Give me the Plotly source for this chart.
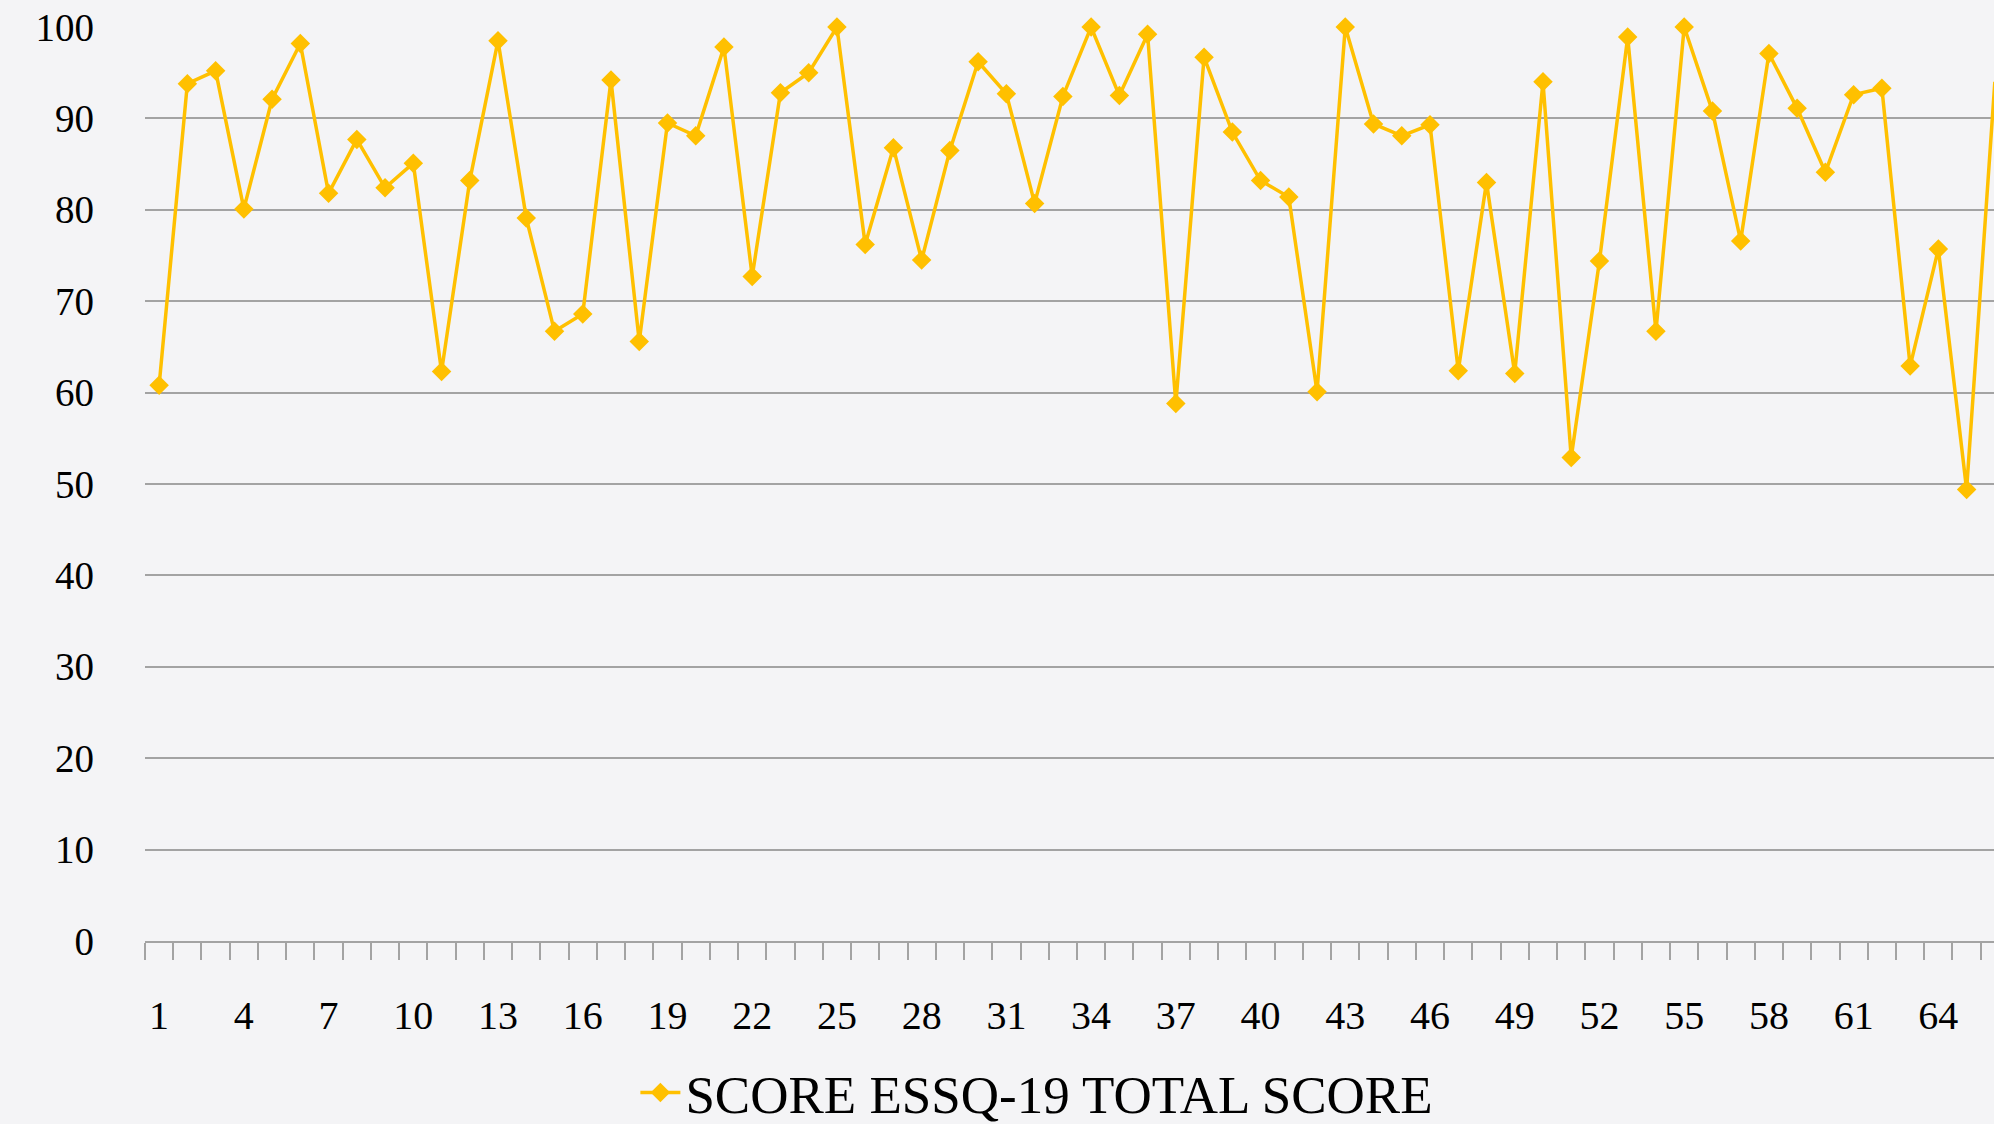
"""
ESSQ-19 total score per respondent, line chart with diamond markers.
"""

import plotly.graph_objects as go

# ---------------------------------------------------------------------------
# Data
# ---------------------------------------------------------------------------

respondents = list(range(1, 67))

total_score = [
    60.8, 93.8, 95.2, 80.1, 92.1, 98.2, 81.8, 87.7, 82.4, 85.1,
    62.3, 83.2, 98.5, 79.1, 66.7, 68.6, 94.2, 65.6, 89.5, 88.1,
    97.8, 72.7, 92.8, 95.0, 100.0, 76.2, 86.8, 74.5, 86.5, 96.2,
    92.7, 80.7, 92.4, 100.0, 92.5, 99.2, 58.8, 96.7, 88.5, 83.2,
    81.4, 60.1, 100.0, 89.4, 88.1, 89.3, 62.4, 83.0, 62.1, 94.0,
    52.9, 74.4, 98.9, 66.7, 100.0, 90.8, 76.6, 97.1, 91.1, 84.1,
    92.6, 93.3, 62.9, 75.7, 49.4, 94.0,
]

label_ticks = list(range(1, 67, 3))
boundary_ticks = [i + 0.5 for i in range(0, 67)]

series_name = "SCORE ESSQ-19 TOTAL SCORE"

# ---------------------------------------------------------------------------
# Styling
# ---------------------------------------------------------------------------

GOLD = "#FFC000"
GRID = "#a3a3a3"
BG = "#f4f4f6"
FONT = "Liberation Serif"

fig = go.Figure()

fig.add_trace(go.Scatter(
    x=respondents,
    y=total_score,
    mode="lines+markers",
    name=series_name,
    line=dict(color=GOLD, width=3.5),
    marker=dict(symbol="diamond", size=15, color=GOLD),
    cliponaxis=False,
))

fig.update_layout(
    width=1994,
    height=1124,
    margin=dict(l=145, r=0, t=27, b=183),
    paper_bgcolor=BG,
    plot_bgcolor="rgba(0,0,0,0)",
    font=dict(family=FONT, color="#000000"),
    showlegend=True,
    legend=dict(
        orientation="h",
        xref="container",
        yref="container",
        x=0.52,
        y=0.028,
        xanchor="center",
        yanchor="middle",
        font=dict(size=53, family=FONT, color="#000000"),
        bgcolor="rgba(0,0,0,0)",
        itemwidth=40,
    ),
    xaxis=dict(
        range=[0.5, 65.97],
        tickmode="array",
        tickvals=label_ticks,
        ticktext=[str(v) for v in label_ticks],
        ticks="",
        showgrid=False,
        zeroline=False,
        showline=True,
        linecolor=GRID,
        linewidth=2,
        tickfont=dict(size=40, family=FONT),
        ticklabelstandoff=38,
        minor=dict(
            tickmode="array",
            tickvals=boundary_ticks,
            ticks="outside",
            ticklen=17,
            tickcolor=GRID,
            tickwidth=1.5,
            showgrid=False,
        ),
    ),
    yaxis=dict(
        range=[0, 100],
        tick0=0,
        dtick=10,
        showgrid=True,
        gridcolor=GRID,
        gridwidth=1.5,
        zeroline=False,
        showline=False,
        ticks="",
        tickfont=dict(size=39, family=FONT),
        ticklabelstandoff=50,
    ),
)

fig.write_html(
    "out.html",
    config={"displayModeBar": False},
    post_script=(
        "document.body.style.margin='0';"
        "document.body.style.overflow='hidden';"
        f"document.body.style.background='{BG}';"
    ),
)
